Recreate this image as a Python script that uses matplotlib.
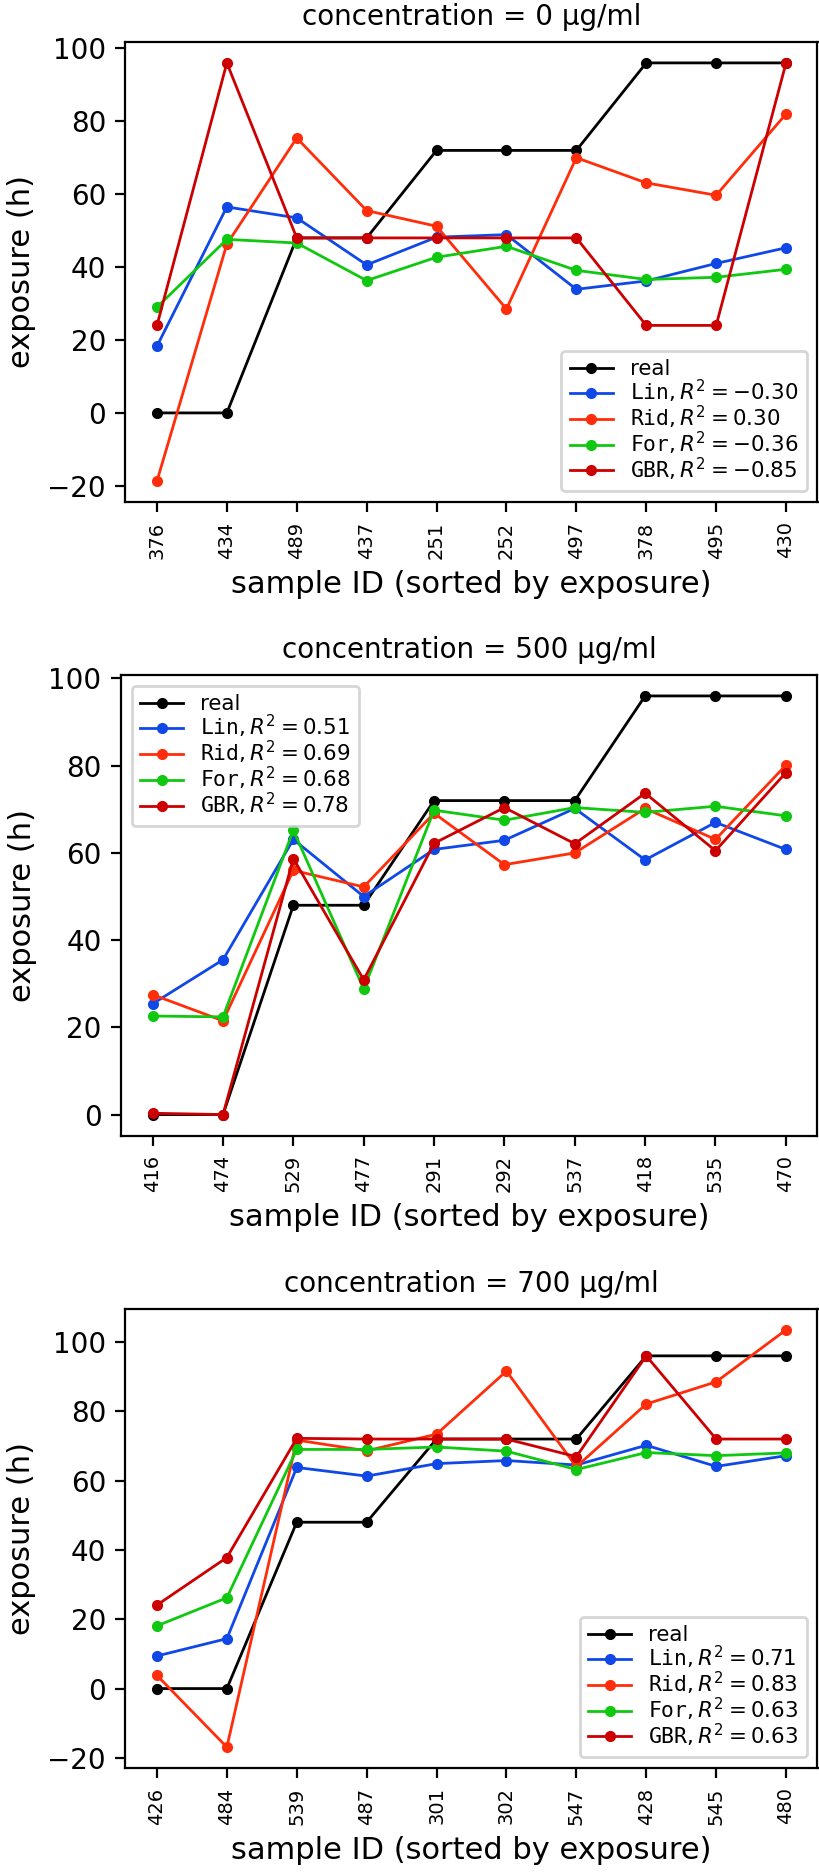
import matplotlib
matplotlib.use('Agg')
import matplotlib.pyplot as plt

# sample IDs on the x axis (sorted by exposure)
ids_0 = ['376', '434', '489', '437', '251', '252', '497', '378', '495', '430']
ids_500 = ['416', '474', '529', '477', '291', '292', '537', '418', '535', '470']
ids_700 = ['426', '484', '539', '487', '301', '302', '547', '428', '545', '480']

# concentration = 0
real_0 = [0, 0, 48, 48, 72, 72, 72, 96, 96, 96]
lin_0 = [18.3, 56.5, 53.5, 40.6, 48.2, 48.9, 33.9, 36.2, 41.0, 45.3]
rid_0 = [-18.7, 46.3, 75.4, 55.5, 51.2, 28.5, 70.0, 63.1, 59.7, 82.0]
for_0 = [29.0, 47.6, 46.6, 36.3, 42.7, 45.7, 39.1, 36.6, 37.2, 39.4]
gbr_0 = [24.0, 96.0, 48, 48, 48, 48, 48, 24, 24, 96]
r2_0 = [-0.30, 0.30, -0.36, -0.85]

# concentration = 500
real_500 = [0, 0, 48, 48, 72, 72, 72, 96, 96, 96]
lin_500 = [25.4, 35.5, 63.1, 50.0, 60.8, 62.9, 70.2, 58.4, 67.0, 60.8]
rid_500 = [27.5, 21.5, 56.0, 52.2, 69.1, 57.3, 60.0, 70.2, 63.1, 80.1]
for_500 = [22.6, 22.4, 65.2, 28.8, 69.8, 67.5, 70.4, 69.3, 70.7, 68.5]
gbr_500 = [0.3, 0.0, 58.7, 30.9, 62.2, 70.4, 62.1, 73.7, 60.5, 78.4]
r2_500 = [0.51, 0.69, 0.68, 0.78]

# concentration = 700
real_700 = [0, 0, 48, 48, 72, 72, 72, 96, 96, 96]
lin_700 = [9.4, 14.4, 63.8, 61.3, 64.9, 65.8, 64.5, 70.2, 64.1, 67.2]
rid_700 = [3.8, -16.9, 71.7, 68.6, 73.4, 91.6, 64.0, 82.1, 88.5, 103.5]
for_700 = [18.1, 26.2, 69.0, 69.0, 69.7, 68.5, 63.2, 68.1, 67.2, 68.0]
gbr_700 = [24.1, 37.8, 72.2, 72, 72, 72, 66.9, 96, 72, 72]
r2_700 = [0.71, 0.83, 0.63, 0.63]

models = ['Lin', 'Rid', 'For', 'GBR']
colors = ['#1048e8', '#ff2d0a', '#10c810', '#cc0000']

fig = plt.figure(figsize=(4.1, 9.375), dpi=200)

panels = [
    (0, ids_0, real_0, [lin_0, rid_0, for_0, gbr_0], r2_0, 'lower right',
     [125.5, 42, 817.5, 502]),
    (500, ids_500, real_500, [lin_500, rid_500, for_500, gbr_500], r2_500, 'upper left',
     [121, 675, 817.5, 1135.5]),
    (700, ids_700, real_700, [lin_700, rid_700, for_700, gbr_700], r2_700, 'lower right',
     [125.5, 1309, 817.5, 1768]),
]

W, H = 820, 1875
for conc, ids, real, preds, r2, loc, box in panels:
    l, t, r, b = box
    ax = fig.add_axes([l / W, 1 - b / H, (r - l) / W, (b - t) / H])
    x = range(len(ids))
    ax.plot(x, real, '-o', color='black', lw=1, ms=3, label='real')
    for name, vals, c, s in zip(models, preds, colors, r2):
        lab = r'$\mathtt{%s}, R^2 = %.2f$' % (name, s)
        ax.plot(x, vals, '-o', color=c, lw=1, ms=3, label=lab)
    ax.set_xticks(list(x))
    ax.set_xticklabels(ids, rotation=90, fontsize=7)
    ax.tick_params(axis='y', labelsize=10)
    ax.set_title('concentration = %d µg/ml' % conc, fontsize=10)
    ax.set_xlabel('sample ID (sorted by exposure)', fontsize=11)
    ax.set_ylabel('exposure (h)', fontsize=11)
    ax.legend(loc=loc, fontsize=7.7, labelspacing=-0.06)

fig.savefig('out.png', dpi=200)
